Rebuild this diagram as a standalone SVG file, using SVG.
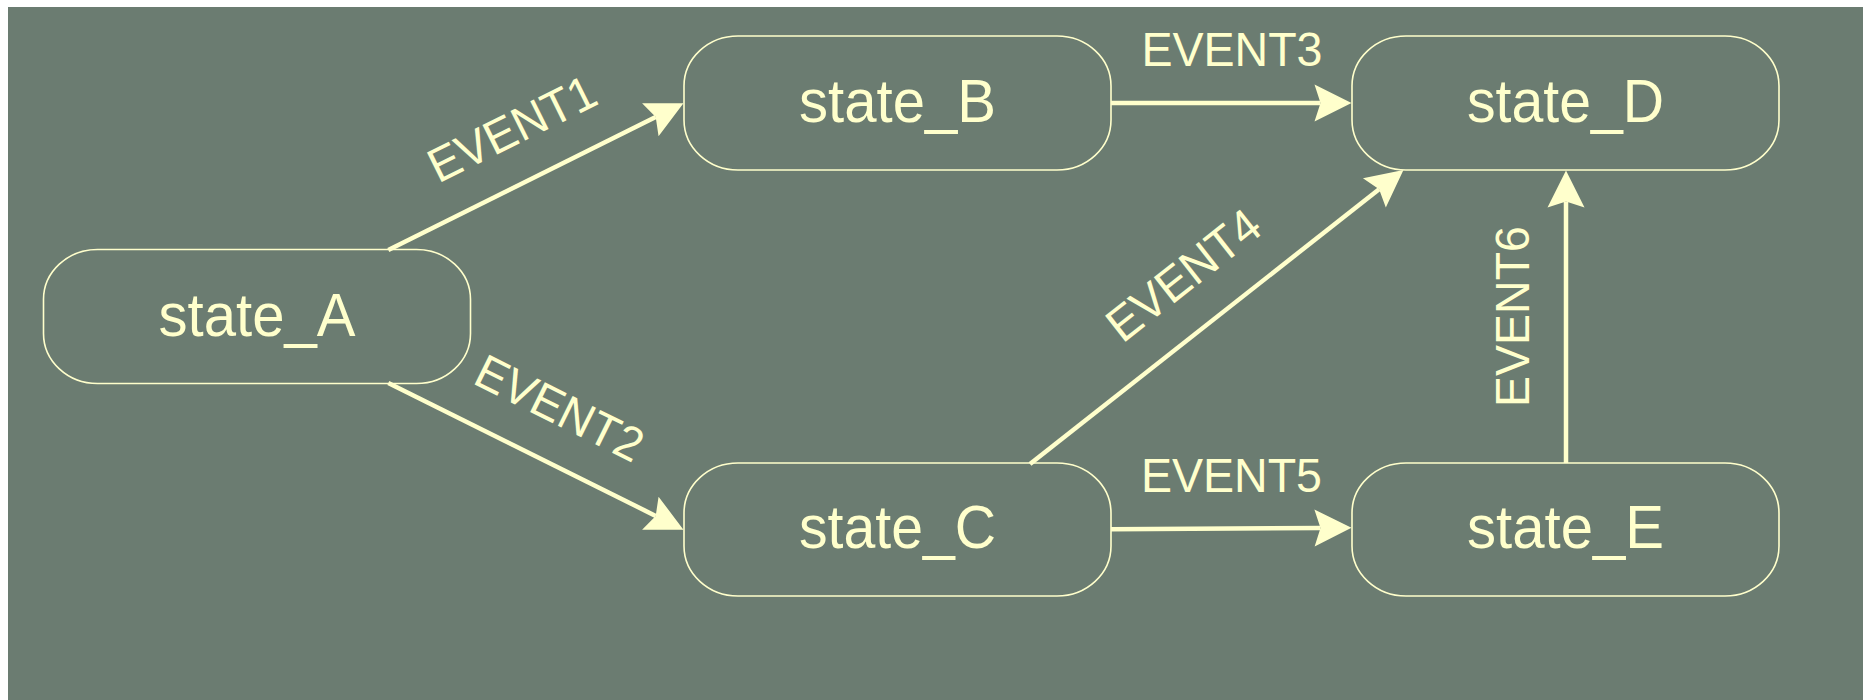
<svg xmlns="http://www.w3.org/2000/svg" width="1863" height="700" viewBox="0 0 1863 700">
  <style>
    .state rect { fill: none; stroke: #ffffcc; stroke-width: 1.6; }
    .state text { fill: #ffffcc; font-family: "Liberation Sans", Arial, Helvetica, sans-serif; font-size: 61px; text-anchor: middle; }
    .edge { fill: none; stroke: #ffffcc; stroke-width: 4.5; marker-end: url(#arrow); }
    .label { fill: #ffffcc; font-family: "Liberation Sans", Arial, Helvetica, sans-serif; font-size: 48px; text-anchor: middle; }
  </style>
  <defs>
    <!-- swallow-tail arrowhead; the line ends at the notch, tip lies 31px further on -->
    <marker id="arrow" markerUnits="userSpaceOnUse" markerWidth="40" markerHeight="40" viewBox="-7 -20 40 40" refX="0" refY="0" orient="auto">
      <path d="M31,0 L-6,-18.5 L0,0 L-6,18.5 Z" fill="#ffffcc"/>
    </marker>
  </defs>

  <!-- canvas -->
  <rect x="0" y="0" width="1863" height="700" fill="#ffffff"/>
  <rect x="8" y="7" width="1855" height="693" fill="#6b7c71"/>

  <!-- transitions -->
  <g id="connectors">
    <line class="edge" x1="388.3" y1="250" x2="655.7" y2="117.1"/>
    <line class="edge" x1="388.3" y1="383" x2="655.7" y2="515.9"/>
    <line class="edge" x1="1111" y1="103" x2="1320.5" y2="103"/>
    <line class="edge" x1="1030" y1="464" x2="1379.1" y2="189.2"/>
    <line class="edge" x1="1111" y1="529.3" x2="1320.5" y2="527.9"/>
    <line class="edge" x1="1566" y1="463" x2="1566" y2="201.5"/>

    <text class="label" transform="translate(519.3,143.5) rotate(-26.4)" textLength="181" lengthAdjust="spacingAndGlyphs">EVENT1</text>
    <text class="label" transform="translate(552.2,422.9) rotate(26.4)" textLength="181" lengthAdjust="spacingAndGlyphs">EVENT2</text>
    <text class="label" x="1232" y="65.5" textLength="181" lengthAdjust="spacingAndGlyphs">EVENT3</text>
    <text class="label" transform="translate(1193.6,288) rotate(-38.2)" textLength="181" lengthAdjust="spacingAndGlyphs">EVENT4</text>
    <text class="label" x="1231.5" y="491.7" textLength="181" lengthAdjust="spacingAndGlyphs">EVENT5</text>
    <text class="label" transform="translate(1529,316.5) rotate(-90)" textLength="181" lengthAdjust="spacingAndGlyphs">EVENT6</text>
  </g>

  <!-- states -->
  <g id="state_A" class="state">
    <rect x="43.5" y="249.5" width="427" height="134" rx="54" ry="50"/>
    <text x="257" y="335.5" textLength="197" lengthAdjust="spacingAndGlyphs">state_A</text>
  </g>
  <g id="state_B" class="state">
    <rect x="684" y="36" width="427" height="134" rx="54" ry="50"/>
    <text x="897.5" y="121.5" textLength="197" lengthAdjust="spacingAndGlyphs">state_B</text>
  </g>
  <g id="state_C" class="state">
    <rect x="684" y="463" width="427" height="133" rx="54" ry="50"/>
    <text x="897.5" y="548" textLength="197" lengthAdjust="spacingAndGlyphs">state_C</text>
  </g>
  <g id="state_D" class="state">
    <rect x="1352" y="36" width="427" height="134" rx="54" ry="50"/>
    <text x="1565.5" y="121.5" textLength="197" lengthAdjust="spacingAndGlyphs">state_D</text>
  </g>
  <g id="state_E" class="state">
    <rect x="1352" y="463" width="427" height="133" rx="54" ry="50"/>
    <text x="1565.5" y="548" textLength="197" lengthAdjust="spacingAndGlyphs">state_E</text>
  </g>
</svg>
